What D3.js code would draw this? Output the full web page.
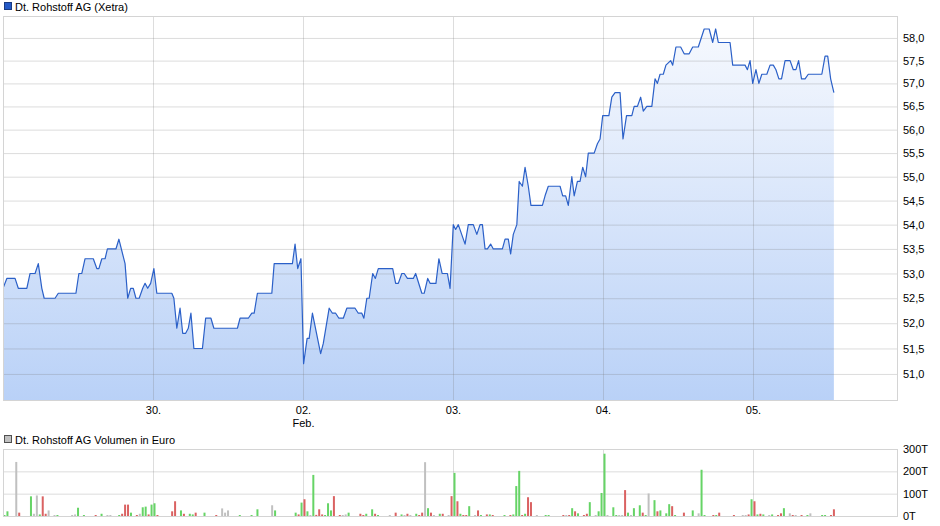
<!DOCTYPE html>
<html>
<head>
<meta charset="utf-8">
<script src="https://cdn.jsdelivr.net/npm/d3@7"></script>
<style>
  body { margin: 0; background: #fff; }
  svg { font-family: "Liberation Sans", Arial, sans-serif; }
  .grid line { stroke: rgba(120, 120, 120, 0.25); }
  .grid path { display: none; }
  .tick text { font-size: 11px; fill: #000; }
</style>
</head>
<body>
<script>
// time axis in 10-minute slots, 51 per trading day (09:00 - 17:30)
var dayLabels = ["30.", "02.", "03.", "04.", "05."];
var daySlots = [51, 102, 153, 204, 255];

var priceTicks = [51, 51.5, 52, 52.5, 53, 53.5, 54, 54.5, 55, 55.5, 56, 56.5, 57, 57.5, 58];
var volumeTicks = [0, 100, 200, 300];

var priceSlots = [0, 1.3, 4.1, 5.2, 8.1, 9.2, 10.9, 12.0, 13.2, 14.0, 17.7, 18.8, 24.8, 25.8, 26.8, 27.9, 30.7, 31.9, 32.6, 33.6,
    34.7, 35.5, 38.4, 39.4, 41.5, 42.4, 43.4, 44.3, 45.2, 46.3, 47.5, 48.3, 49.2, 50.2,
    51.3, 52.3, 57.4, 58.1, 59.1, 60.2, 61.1, 62.1, 63.0, 63.9, 64.9, 67.8, 68.9, 70.7, 71.7, 79.7, 80.6, 83.4, 84.6, 85.4,
    86.5, 91.4, 92.2, 98.4, 99.3, 100.2, 101.3,
    102.2, 103.4, 104.1, 105.2, 108.0, 108.9, 110.9, 112.0, 113.1, 114.2, 115.7, 116.9, 119.7, 120.8, 122.0, 122.7, 123.7, 124.5,
    125.7, 126.6, 127.6, 132.5, 133.5, 134.4, 135.6, 136.4, 137.5, 139.5, 140.3, 142.4, 143.2, 144.4, 145.2, 147.2, 148.2, 149.3,
    151.1, 152.0,
    153.1, 153.9, 154.8, 157.1, 158.2, 159.9, 161.1, 162.2, 163.0, 163.9, 164.7, 165.8, 166.7, 169.8, 170.7, 171.8, 172.6, 173.5,
    174.7, 175.5, 176.6, 177.5, 178.6, 179.5, 183.4, 184.3, 185.4, 189.4, 190.3, 191.3, 192.2, 193.4, 194.2, 195.3, 196.2, 197.1,
    198.1, 199.0, 201.0, 202.1, 203.0,
    203.9, 206.0, 207.0, 208.1, 209.8, 210.8, 212.0, 213.8, 214.6, 215.7, 216.8, 217.7, 218.9, 220.6, 221.7, 222.5, 223.4, 224.5,
    225.4, 226.2, 227.0, 227.7, 228.8, 230.4, 231.6, 233.3, 234.5, 236.4, 238.4, 240.1, 241.3, 242.3, 243.2, 247.2, 248.1, 252.3,
    253.1, 254.0,
    254.9, 256.0, 257.0, 258.0, 259.7, 260.8, 261.9, 262.8, 263.8, 264.7, 265.9, 267.6, 268.7, 269.6, 270.5, 271.5, 272.7, 273.8,
    278.4, 279.5, 280.4, 281.4, 282.5];

var priceValues = [52.7, 52.9, 52.9, 52.7, 52.7, 53.0, 53.0, 53.2, 52.7, 52.5, 52.5, 52.6, 52.6, 53.0, 53.0, 53.3, 53.3, 53.1, 53.1, 53.3,
    53.3, 53.5, 53.5, 53.7, 53.2, 52.5, 52.7, 52.7, 52.5, 52.5, 52.7, 52.8, 52.7, 52.8,
    53.1, 52.6, 52.6, 52.5, 51.9, 52.3, 51.8, 51.8, 51.9, 52.2, 51.5, 51.5, 52.1, 52.1, 51.9, 51.9, 52.1, 52.1, 52.2, 52.2,
    52.6, 52.6, 53.2, 53.2, 53.6, 53.1, 53.3,
    51.2, 51.7, 51.7, 52.2, 51.4, 51.6, 52.3, 52.2, 52.2, 52.1, 52.1, 52.3, 52.3, 52.2, 52.2, 52.1, 52.5, 52.5,
    53.0, 52.9, 53.1, 53.1, 52.8, 52.8, 53.0, 53.0, 52.9, 52.9, 53.0, 52.6, 52.6, 52.9, 52.8, 52.8, 53.3, 53.0,
    53.0, 52.7,
    54.0, 53.9, 54.0, 53.6, 54.0, 54.0, 53.8, 54.0, 54.0, 53.5, 53.5, 53.6, 53.5, 53.5, 53.7, 53.7, 53.4, 53.8,
    54.0, 54.9, 54.8, 55.2, 54.8, 54.4, 54.4, 54.6, 54.8, 54.8, 54.6, 54.6, 54.4, 55.0, 54.6, 54.9, 54.9, 55.2,
    55.0, 55.5, 55.5, 55.7, 55.8,
    56.3, 56.3, 56.7, 56.8, 56.8, 55.8, 56.3, 56.3, 56.5, 56.5, 56.7, 56.4, 56.5, 56.5, 57.1, 57.0, 57.2, 57.2,
    57.4, 57.45, 57.5, 57.4, 57.8, 57.8, 57.65, 57.65, 57.8, 57.8, 58.2, 58.2, 57.9, 58.2, 57.9, 57.9, 57.4, 57.4,
    57.3, 57.5,
    57.0, 57.3, 57.0, 57.2, 57.2, 57.4, 57.4, 57.3, 57.1, 57.1, 57.5, 57.5, 57.3, 57.3, 57.5, 57.1, 57.1, 57.2,
    57.2, 57.6, 57.6, 57.1, 56.8];

// volume in thousand euro; g = up, r = down, n = unchanged
var volSlots = [0, 1, 4, 5, 9, 10, 11, 12, 13, 14, 15, 17, 18, 23, 24, 25, 27, 31, 33, 35, 36, 39, 40, 41, 42, 43, 45, 46, 47, 48,
    49, 50, 51, 52, 57, 58, 60, 61, 63, 64, 65, 68, 72, 74, 75, 76, 80, 84, 86, 91, 92, 99, 100, 101,
    102, 103, 104, 105, 106, 107, 108, 109, 110, 111, 112, 114, 115, 116, 117, 121, 122, 123, 125, 126, 127, 131, 133, 135,
    136, 137, 138, 140, 141, 142, 143, 144, 145, 146, 148, 149, 151, 152,
    153, 154, 155, 156, 157, 158, 160, 161, 162, 164, 165, 166, 170, 172, 173, 174, 175, 176, 177, 178, 179, 181, 184, 185,
    190, 191, 192, 193, 194, 195, 197, 198, 199, 201, 202, 203,
    204, 205, 207, 208, 209, 210, 211, 212, 213, 214, 216, 217, 218, 219, 221, 222, 223, 225, 226, 227, 228, 231, 234, 236,
    237, 238, 241, 242, 243, 248, 251, 252, 253, 254,
    255, 256, 257, 258, 260, 261, 263, 264, 265, 267, 268, 269, 271, 273, 274, 278, 279, 281, 282];

var volValues = [4, 21, 242, 15, 88, 10, 92, 7, 88, 10, 25, 1, 2, 3, 7, 37, 2, 3, 10, 1, 1, 1, 10, 51, 51, 15, 1, 10, 39, 42,
    7, 51, 57, 3, 21, 66, 25, 10, 10, 7, 15, 15, 1, 34, 15, 25, 1, 3, 30, 48, 25, 15, 7, 60,
    75, 21, 3, 184, 5, 30, 7, 3, 57, 25, 89, 1, 3, 7, 15, 10, 3, 10, 30, 10, 1, 3, 15, 7,
    3, 10, 1, 10, 3, 15, 241, 35, 15, 3, 10, 10, 1, 89,
    193, 66, 10, 3, 3, 44, 1, 25, 1, 7, 7, 3, 1, 3, 7, 134, 202, 1, 10, 84, 62, 3, 1, 1,
    1, 3, 3, 35, 21, 12, 1, 10, 62, 1, 21, 103,
    279, 1, 39, 3, 3, 3, 116, 15, 3, 35, 48, 15, 3, 101, 71, 21, 25, 12, 53, 44, 1, 15, 25, 12,
    207, 3, 3, 1, 15, 3, 1, 3, 7, 75,
    66, 7, 10, 7, 1, 7, 3, 12, 35, 12, 3, 3, 3, 1, 12, 1, 1, 3, 30];

var volColors = ["g", "g", "n", "r", "g", "n", "n", "g", "r", "r", "n", "n", "g", "n", "n", "g", "g", "r", "g", "n", "n", "g", "r", "r", "r", "g", "r", "n", "g", "g",
    "r", "g", "g", "r", "r", "r", "g", "r", "g", "g", "r", "g", "r", "n", "n", "n", "g", "g", "g", "n", "g", "g", "r", "g",
    "r", "g", "n", "g", "r", "r", "r", "g", "g", "g", "r", "r", "n", "n", "g", "r", "r", "g", "g", "r", "g", "n", "r", "g",
    "n", "r", "n", "g", "r", "r", "n", "g", "r", "n", "g", "r", "n", "r",
    "g", "r", "g", "r", "r", "g", "n", "r", "g", "r", "g", "r", "g", "r", "g", "g", "g", "r", "g", "r", "r", "n", "g", "g",
    "r", "n", "r", "g", "r", "g", "r", "r", "g", "n", "g", "g",
    "g", "n", "g", "g", "n", "n", "r", "g", "n", "g", "g", "r", "g", "n", "g", "r", "g", "g", "g", "r", "g", "r", "g", "n",
    "g", "g", "r", "g", "r", "r", "n", "n", "r", "g",
    "r", "g", "r", "g", "n", "g", "r", "r", "g", "n", "r", "n", "r", "g", "n", "g", "g", "r", "r"];

var w = 940;
var h = 526;
var left = 3, right = 898;
var top1 = 16, bottom1 = 401;
var top2 = 449, bottom2 = 516;
var barColor = { g: "#66d466", r: "#da6262", n: "#c0c0c0" };

var svg = d3.select("body")
    .append("svg")
    .attr("width", w)
    .attr("height", h);

var xScale = d3.scaleLinear()
    .domain([0, 306])
    .range([left, 903]);

var yScale = d3.scaleLog()
    .domain([50.475, 58.49])
    .range([bottom1, top1]);

var vScale = d3.scaleLinear()
    .domain([0, 300])
    .range([bottom2, top2]);

var price = priceSlots.map(function(s, i) { return [s, priceValues[i]]; });

var defs = svg.append("defs");
var grad = defs.append("linearGradient")
    .attr("id", "fill")
    .attr("gradientUnits", "userSpaceOnUse")
    .attr("x1", 0).attr("y1", top1)
    .attr("x2", 0).attr("y2", bottom1);
grad.append("stop").attr("offset", 0).attr("stop-color", "#f8fafe");
grad.append("stop").attr("offset", 1).attr("stop-color", "#b9d1f7");

defs.append("clipPath").attr("id", "clip1")
    .append("rect")
    .attr("x", left).attr("y", top1)
    .attr("width", right - left).attr("height", bottom1 - top1);

// ---- price panel ----
// area first so the grid shows through it
svg.append("path")
    .datum(price)
    .attr("clip-path", "url(#clip1)")
    .attr("fill", "url(#fill)")
    .attr("d", d3.area()
        .x(function(d) { return xScale(d[0]); })
        .y0(bottom1)
        .y1(function(d) { return yScale(d[1]); }));

svg.append("g")
    .attr("class", "grid")
    .attr("transform", "translate(" + right + ",0)")
    .call(d3.axisRight(yScale)
        .tickValues(priceTicks)
        .tickSize(-(right - left))
        .tickPadding(5)
        .tickFormat(function(d) { return d3.format(".1f")(d).replace(".", ","); }));

var xAxis = svg.append("g")
    .attr("class", "grid")
    .attr("transform", "translate(0," + bottom1 + ")")
    .call(d3.axisBottom(xScale)
        .tickValues(daySlots)
        .tickSize(-(bottom1 - top1))
        .tickPadding(5)
        .tickFormat(function(d, i) { return dayLabels[i]; }));

xAxis.selectAll(".tick text")
    .filter(function(d, i) { return i === 1; })
    .append("tspan")
    .attr("x", 0)
    .attr("dy", "1.2em")
    .text("Feb.");

svg.append("path")
    .datum(price)
    .attr("clip-path", "url(#clip1)")
    .attr("fill", "none")
    .attr("stroke", "#2b60c8")
    .attr("stroke-width", 1.2)
    .attr("stroke-linejoin", "round")
    .attr("d", d3.line()
        .x(function(d) { return xScale(d[0]); })
        .y(function(d) { return yScale(d[1]); }));

svg.append("rect")
    .attr("x", left + 0.5).attr("y", top1 + 0.5)
    .attr("width", right - left - 1).attr("height", bottom1 - top1 - 1)
    .attr("fill", "none")
    .attr("stroke", "#d4d4d4");

svg.append("rect")
    .attr("x", 4.5).attr("y", 2.5)
    .attr("width", 7).attr("height", 7)
    .attr("fill", "#2459c6")
    .attr("stroke", "#1a3a80");

svg.append("text")
    .attr("x", 15)
    .attr("y", 10.5)
    .attr("font-size", 11)
    .text("Dt. Rohstoff AG (Xetra)");

// ---- volume panel ----
svg.append("g")
    .attr("class", "grid")
    .attr("transform", "translate(" + right + ",0)")
    .call(d3.axisRight(vScale)
        .tickValues(volumeTicks)
        .tickSize(-(right - left))
        .tickPadding(5)
        .tickFormat(function(d) { return d + "T"; }));

svg.append("g")
    .attr("class", "grid")
    .attr("transform", "translate(0," + bottom2 + ")")
    .call(d3.axisBottom(xScale)
        .tickValues(daySlots)
        .tickSize(-(bottom2 - top2))
        .tickFormat(""));

svg.selectAll(".vol")
    .data(volSlots)
    .enter()
    .append("rect")
    .attr("class", "vol")
    .attr("x", function(d) { return xScale(d) + 0.5; })
    .attr("width", 2)
    .attr("y", function(d, i) { return Math.min(vScale(volValues[i]), bottom2 - 1); })
    .attr("height", function(d, i) { return Math.max(bottom2 - vScale(volValues[i]), 1); })
    .attr("fill", function(d, i) { return barColor[volColors[i]]; });

svg.append("rect")
    .attr("x", left + 0.5).attr("y", top2 + 0.5)
    .attr("width", right - left - 1).attr("height", bottom2 - top2)
    .attr("fill", "none")
    .attr("stroke", "#d4d4d4");

svg.append("rect")
    .attr("x", 4.5).attr("y", 435.5)
    .attr("width", 7).attr("height", 7)
    .attr("fill", "#c0c0c0")
    .attr("stroke", "#505050");

svg.append("text")
    .attr("x", 15)
    .attr("y", 443.5)
    .attr("font-size", 11)
    .text("Dt. Rohstoff AG Volumen in Euro");
</script>
</body>
</html>
